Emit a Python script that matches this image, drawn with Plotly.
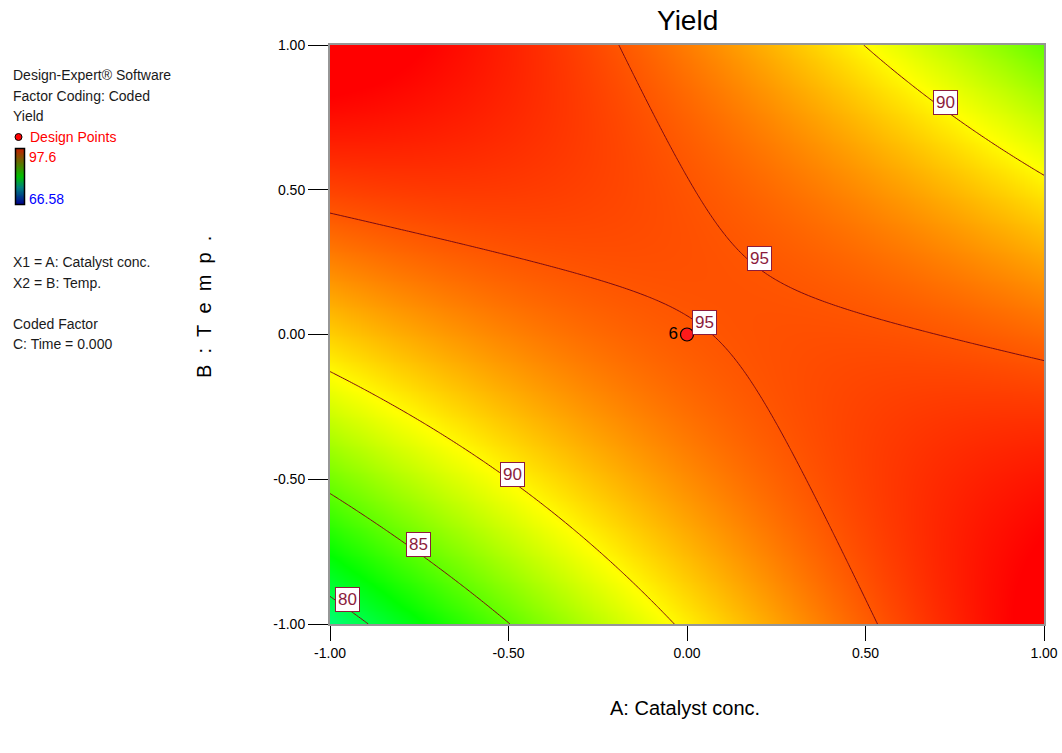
import numpy as np
import plotly.graph_objects as go

# ---- data ----
# quadratic response-surface coefficients (coded units), fitted to the contours in the picture
b0, bA, bB, bAB, bAA, bBB = 94.90, 1.558, 1.724, -8.234, -2.022, -2.825
contour_levels = [80, 85, 90, 95]
label_A = [0.725, 0.202, 0.050, -0.490, -0.751, -0.952]
label_B = [0.803, 0.264, 0.043, -0.482, -0.727, -0.917]
label_text = ["90", "95", "95", "90", "85", "80"]
design_A = [0.0]
design_B = [0.0]
design_label = ["6"]
y_min, y_max = 66.58, 97.6
tick_vals = [-1.0, -0.5, 0.0, 0.5, 1.0]
tick_text = ["-1.00", "-0.50", "0.00", "0.50", "1.00"]

FONT = "Liberation Sans, Arial, sans-serif"
W, H = 1062, 753


def px(x):
    return x / W


def py(y):
    return 1 - y / H


g = np.linspace(-1, 1, 201)
GA, GB = np.meshgrid(g, g)
Z = b0 + bA * GA + bB * GB + bAB * GA * GB + bAA * GA ** 2 + bBB * GB ** 2

cs = [[0, "#0000ff"], [0.25, "#00ffff"], [0.5, "#00ff00"], [0.75, "#ffff00"], [1, "#ff0000"]]
cs_bar = [[0, "#000090"], [0.3, "#008080"], [0.5, "#00c000"], [0.75, "#607000"], [1, "#c02000"]]
LC = "#7a0a14"
LBL = "#8c1c3c"

fig = go.Figure()
fig.add_trace(go.Heatmap(x=g, y=g, z=Z, zmin=y_min, zmax=y_max, colorscale=cs,
                         zsmooth="best", showscale=False, hoverinfo="skip"))
fig.add_trace(go.Contour(x=g, y=g, z=Z,
                         contours=dict(coloring="none", start=contour_levels[0],
                                       end=contour_levels[-1], size=5),
                         line=dict(color=LC, width=1), showscale=False, hoverinfo="skip"))
fig.add_trace(go.Scatter(x=design_A, y=design_B, mode="markers+text", text=design_label,
                         textposition="middle left",
                         textfont=dict(family=FONT, size=17, color="black"),
                         marker=dict(color="#ff1a1a", size=13, line=dict(color="black", width=1.2)),
                         showlegend=False, hoverinfo="skip"))

# small colour bar in the left panel
cb = np.linspace(y_min, y_max, 100)
fig.add_trace(go.Heatmap(x=[0], y=cb, z=[[v] for v in cb], zmin=y_min, zmax=y_max,
                         colorscale=cs_bar, showscale=False, xaxis="x2", yaxis="y2",
                         hoverinfo="skip"))

for a, b, t in zip(label_A, label_B, label_text):
    fig.add_annotation(x=a, y=b, xref="x", yref="y", text=t, showarrow=False,
                       font=dict(family=FONT, size=17, color=LBL),
                       bgcolor="white", bordercolor=LBL, borderwidth=1, borderpad=2)

axis_common = dict(range=[-1, 1], tickvals=tick_vals, ticktext=tick_text,
                   showgrid=True, gridcolor="#a8a8a8", gridwidth=1, zeroline=False,
                   showline=True, linecolor="#969696", linewidth=2, mirror=True,
                   ticks="outside", tickcolor="black", tickwidth=1,
                   tickfont=dict(family=FONT, size=14, color="black"))

fig.update_layout(
    width=W, height=H, margin=dict(l=0, r=0, t=0, b=0, autoexpand=False),
    paper_bgcolor="white", plot_bgcolor="white", showlegend=False,
    xaxis=dict(domain=[px(330), px(1044)], anchor="y", ticklen=15, **axis_common),
    yaxis=dict(domain=[py(624), py(45)], anchor="x", ticklen=20, **axis_common),
    xaxis2=dict(domain=[px(16), px(24)], anchor="y2", visible=False, range=[-0.5, 0.5]),
    yaxis2=dict(domain=[py(204), py(149)], anchor="x2", visible=False, range=[y_min, y_max]),
    shapes=[dict(type="rect", xref="paper", yref="paper", x0=px(15.5), x1=px(24.5),
                 y0=py(204.5), y1=py(148.5), line=dict(color="black", width=1.5))],
)


def note(text, x, y, color="#1a1a1a", size=14, xanchor="left", **kw):
    fig.add_annotation(text=text, x=px(x), y=py(y), xref="paper", yref="paper",
                       showarrow=False, xanchor=xanchor, yanchor="middle",
                       font=dict(family=FONT, size=size, color=color), **kw)


note("Yield", 687, 21, color="black", size=28, xanchor="center")
note("A: Catalyst conc.", 685, 708, color="black", size=20, xanchor="center")
sp = "\u00a0\u00a0"
note(sp.join(["B", ":", "T", "e", "m", "p", "."]), 204, 307, color="black", size=20,
     xanchor="center", textangle=-90)

note("Design-Expert® Software", 11, 75)
note("Factor Coding: Coded", 11, 96)
note("Yield", 11, 116)
note("Design Points", 28, 137, color="#ff0000")
note("97.6", 27, 157, color="#ff0000")
note("66.58", 27, 199, color="#0000ff")
note("X1 = A: Catalyst conc.", 11, 262)
note("X2 = B: Temp.", 11, 283)
note("Coded Factor", 11, 324)
note("C: Time = 0.000", 11, 344)
fig.add_shape(type="circle", xref="paper", yref="paper", x0=px(15), x1=px(22),
              y0=py(140.5), y1=py(133.5), fillcolor="#ff0000", line=dict(color="black", width=1))

fig.write_html("out.html", config={"displayModeBar": False},
               post_script="document.body.style.margin='0';document.body.style.overflow='hidden';")
